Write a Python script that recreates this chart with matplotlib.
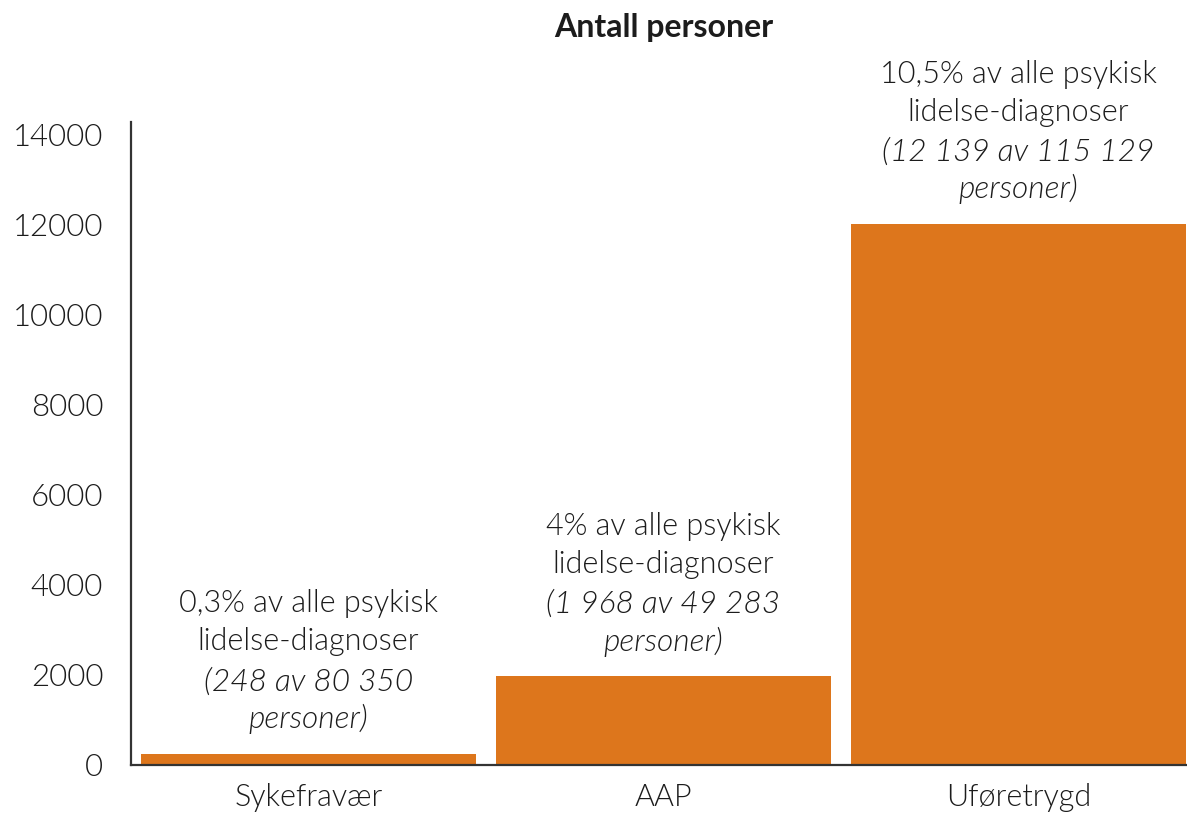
import matplotlib
matplotlib.use("Agg")
import matplotlib.pyplot as plt

categories = ["Sykefravær", "AAP", "Uføretrygd"]
values = [248, 1968, 12020]
label_normal = [
    ["0,3% av alle psykisk", "lidelse-diagnoser"],
    ["4% av alle psykisk", "lidelse-diagnoser"],
    ["10,5% av alle psykisk", "lidelse-diagnoser"],
]
label_italic = [
    ["(248 av 80 350", "personer)"],
    ["(1 968 av 49 283", "personer)"],
    ["(12 139 av 115 129", "personer)"],
]
yticks = [0, 2000, 4000, 6000, 8000, 10000, 12000, 14000]
title = "Antall personer"

plt.rcParams['font.family'] = ['Lato', 'DejaVu Sans']
txt = "#1c1c1c"
bar_color = "#DD761C"

W, H = 1187, 814
fig = plt.figure(figsize=(W / 100, H / 100), dpi=100)
ax = fig.add_axes([131 / W, 1 - 765 / H, 1065 / W, (765 - 121.5) / H])

x = range(len(categories))
ax.bar(x, values, width=0.944, color=bar_color, zorder=2)
ax.set_xlim(-0.5, 2.5)
ax.set_ylim(0, 14300)
ax.set_yticks(yticks)
ax.set_yticklabels([str(v) for v in yticks], fontsize=22.5, color=txt, fontweight=300)
ax.set_xticks(list(x))
ax.set_xticklabels(categories, fontsize=22, color=txt, fontweight=300)
ax.tick_params(axis='y', length=0, pad=20)
ax.tick_params(axis='x', length=0, pad=13)
for s in ["top", "right"]:
    ax.spines[s].set_visible(False)
for s in ["left", "bottom"]:
    ax.spines[s].set_color("#333333")
    ax.spines[s].set_linewidth(1.6)

offsets = [108, 80.6, 51.8, 25.2]
for i, v in enumerate(values):
    lines = label_normal[i] + label_italic[i]
    styles = ["normal", "normal", "italic", "italic"]
    sizes = [22, 22, 22.8, 22.8]
    for line, st, sz, off in zip(lines, styles, sizes, offsets):
        ax.annotate(line, (i, v), xytext=(0, off), textcoords="offset points",
                    ha="center", va="center", fontsize=sz, style=st, fontweight=300,
                    color=txt, annotation_clip=False)

fig.text((131 + 1196) / 2 / W, 1 - 28 / H, title, ha="center", va="center",
         fontsize=23, fontweight="bold", color=txt)

fig.savefig("out.png", dpi=100)
